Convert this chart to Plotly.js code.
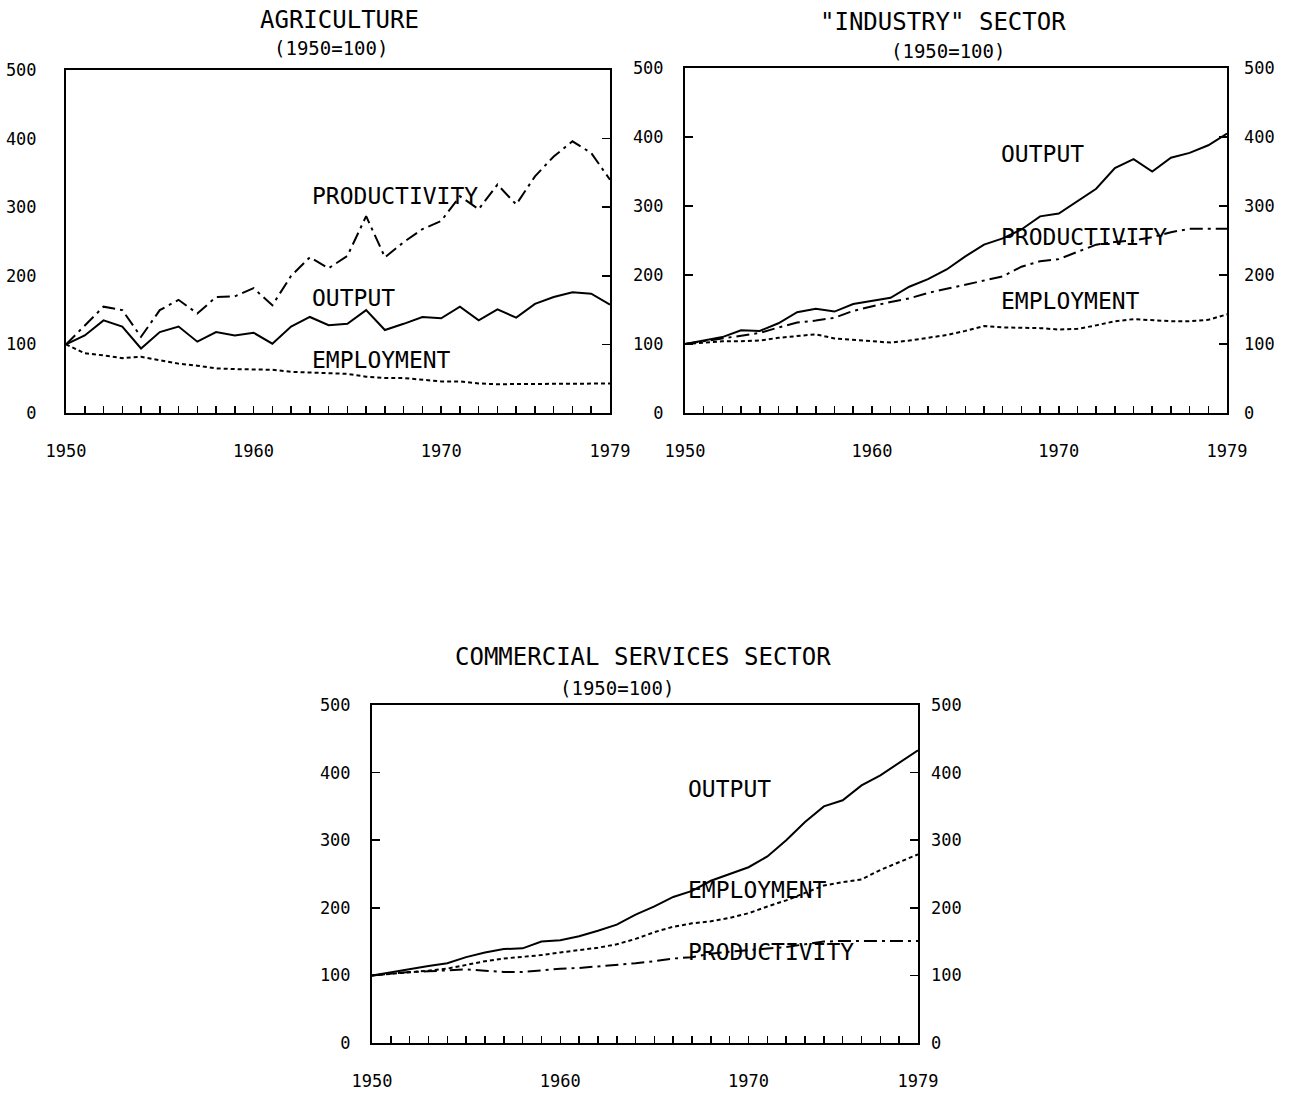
<!DOCTYPE html>
<html>
<head>
<meta charset="utf-8">
<script src="https://cdn.plot.ly/plotly-3.0.1.min.js"></script>
<style>html,body{margin:0;padding:0;background:#fff;}#chart{width:1302px;height:1096px;}</style>
</head>
<body>
<div id="chart"></div>
<script>
// ---------- data ----------
const years = [1950,1951,1952,1953,1954,1955,1956,1957,1958,1959,1960,1961,1962,1963,1964,1965,1966,1967,1968,1969,1970,1971,1972,1973,1974,1975,1976,1977,1978,1979];
const labelYears = [1950,1960,1970,1979];
const yTicks = [0,100,200,300,400,500];

const agriProductivity = [100,127,155,150,111,150,165,145,169,170,182,157,200,227,211,229,287,227,249,268,280,316,297,333,304,345,374,396,379,340];
const agriOutput       = [100,113,135,126,94,118,126,104,118,113,117,101,126,140,128,130,150,121,130,140,138,155,135,151,139,159,169,176,174,158];
const agriEmployment   = [100,87,84,80,82,77,72,69,65,64,63,63,60,59,59,57,53,51,51,48,46,46,43,42,42,43,43,43,43,43];

const indOutput        = [100,105,110,120,119,130,146,151,147,158,163,167,183,194,208,227,244,253,266,285,289,307,325,355,368,350,370,377,388,405];
const indProductivity  = [100,104,109,112,116,124,131,134,138,148,155,161,166,174,180,186,191,198,212,220,223,233,244,248,250,255,262,267,267,267];
const indEmployment    = [100,102,104,104,105,109,112,114,108,106,104,102,105,109,113,119,126,124,124,123,121,122,127,133,136,134,133,133,135,143];

const comOutput        = [100,105,110,114,118,127,134,139,140,150,152,158,166,175,190,202,216,225,240,250,260,276,300,327,350,359,381,396,414,433];
const comEmployment    = [100,102,105,107,110,116,121,125,127,130,134,137,141,146,154,164,172,177,180,185,192,202,211,222,233,238,242,256,268,279];
const comProductivity  = [100,103,105,106,108,109,107,105,105,108,110,111,113,115,118,121,125,127,132,135,137,139,142,146,150,151,151,150,150,151];

const titles = ['AGRICULTURE', '"INDUSTRY" SECTOR', 'COMMERCIAL SERVICES SECTOR'];
const subtitle = '(1950=100)';
const seriesNames = ['OUTPUT', 'PRODUCTIVITY', 'EMPLOYMENT'];

// ---------- styling ----------
const FONT = '"DejaVu Sans Mono", "Liberation Mono", monospace';
const W = 1302, H = 1096;
const px = v => v / W;
const py = v => 1 - v / H;

const solid = {color: '#000', width: 2};
const dashdot = {color: '#000', width: 2, dash: '13px,5px,3px,5px'};
const dotted = {color: '#000', width: 2, dash: '4px,3px'};

function tr(y, line, xa, ya) {
  return {x: years, y: y, type: 'scatter', mode: 'lines', line: line, xaxis: xa, yaxis: ya, hoverinfo: 'skip', showlegend: false};
}
function ghost(y, xa, ya) {
  return {x: years, y: y, type: 'scatter', mode: 'none', xaxis: xa, yaxis: ya, hoverinfo: 'skip', showlegend: false};
}

const data = [
  tr(agriProductivity, dashdot, 'x', 'y'),
  tr(agriOutput, solid, 'x', 'y'),
  tr(agriEmployment, dotted, 'x', 'y'),
  ghost(agriOutput, 'x', 'y4'),
  tr(indOutput, solid, 'x2', 'y2'),
  tr(indProductivity, dashdot, 'x2', 'y2'),
  tr(indEmployment, dotted, 'x2', 'y2'),
  ghost(indOutput, 'x2', 'y5'),
  tr(comOutput, solid, 'x3', 'y3'),
  tr(comEmployment, dotted, 'x3', 'y3'),
  tr(comProductivity, dashdot, 'x3', 'y3'),
  ghost(comOutput, 'x3', 'y6')
];

const tickText = years.map(y => labelYears.includes(y) ? String(y) : '');
const tickFont = {family: FONT, size: 17, color: '#000'};

function xAxis(domain, anchor) {
  return {domain: domain, anchor: anchor, range: [1950, 1979], showgrid: false, zeroline: false,
    showline: true, linecolor: '#000', linewidth: 2, mirror: true,
    ticks: 'inside', ticklen: 7, tickwidth: 1.5, tickcolor: '#000',
    tickmode: 'array', tickvals: years, ticktext: tickText, tickfont: tickFont, ticklabelstandoff: 22};
}
function yAxis(domain, anchor, ticks, standoff) {
  return {domain: domain, anchor: anchor, range: [0, 500], showgrid: false, zeroline: false,
    showline: true, linecolor: '#000', linewidth: 2, mirror: true,
    ticks: ticks, ticklen: 8, tickwidth: 1.5, tickcolor: '#000',
    tickmode: 'array', tickvals: yTicks, tickfont: tickFont, ticklabelstandoff: standoff};
}
function yRight(over, anchor, labels, standoff) {
  return {overlaying: over, anchor: anchor, side: 'right', range: [0, 500], showgrid: false, zeroline: false,
    showline: false, ticks: 'inside', ticklen: 8, tickwidth: 1.5, tickcolor: '#000',
    tickmode: 'array', tickvals: labels ? yTicks : [100,200,300,400], showticklabels: labels,
    tickfont: tickFont, ticklabelstandoff: standoff};
}

const dA = {x: [px(66), px(610)], y: [py(413), py(70)]};
const dI = {x: [px(685), px(1227)], y: [py(413), py(68)]};
const dC = {x: [px(372), px(918)], y: [py(1043), py(705)]};

const titleFont = {family: FONT, size: 24, color: '#000'};
const subFont = {family: FONT, size: 19, color: '#000'};
const labFont = {family: FONT, size: 23, color: '#000'};

function paperText(text, x, y, font) {
  return {text: text, xref: 'paper', yref: 'paper', x: px(x), y: py(y), xanchor: 'center', yanchor: 'middle', showarrow: false, font: font};
}
function seriesLabel(text, xa, ya, x, y) {
  return {text: text, xref: xa, yref: ya, x: x, y: y, xanchor: 'left', yanchor: 'middle', showarrow: false, font: labFont};
}

const layout = {
  width: W, height: H, margin: {l: 0, r: 0, t: 0, b: 0},
  paper_bgcolor: '#fff', plot_bgcolor: 'rgba(0,0,0,0)', showlegend: false,
  xaxis: xAxis(dA.x, 'y'),
  yaxis: yAxis(dA.y, 'x', '', 24),
  yaxis4: yRight('y', 'x', false, 0),
  xaxis2: xAxis(dI.x, 'y2'),
  yaxis2: yAxis(dI.y, 'x2', 'inside', 16),
  yaxis5: yRight('y2', 'x2', true, 16),
  xaxis3: xAxis(dC.x, 'y3'),
  yaxis3: yAxis(dC.y, 'x3', 'inside', 16),
  yaxis6: yRight('y3', 'x3', true, 12),
  annotations: [
    paperText(titles[0], 339, 20, titleFont),
    paperText(subtitle, 331, 48, subFont),
    paperText(titles[1], 943, 22, titleFont),
    paperText(subtitle, 948, 51, subFont),
    paperText(titles[2], 643, 657, titleFont),
    paperText(subtitle, 617, 688, subFont),
    seriesLabel(seriesNames[1], 'x', 'y', 1963.0, 316),
    seriesLabel(seriesNames[0], 'x', 'y', 1963.0, 167),
    seriesLabel(seriesNames[2], 'x', 'y', 1963.0, 77),
    seriesLabel(seriesNames[0], 'x2', 'y2', 1966.8, 376),
    seriesLabel(seriesNames[1], 'x2', 'y2', 1966.8, 255),
    seriesLabel(seriesNames[2], 'x2', 'y2', 1966.8, 163),
    seriesLabel(seriesNames[0], 'x3', 'y3', 1966.7, 376),
    seriesLabel(seriesNames[2], 'x3', 'y3', 1966.7, 226),
    seriesLabel(seriesNames[1], 'x3', 'y3', 1966.7, 134)
  ]
};

Plotly.newPlot('chart', data, layout, {staticPlot: true, displayModeBar: false});
</script>
</body>
</html>
